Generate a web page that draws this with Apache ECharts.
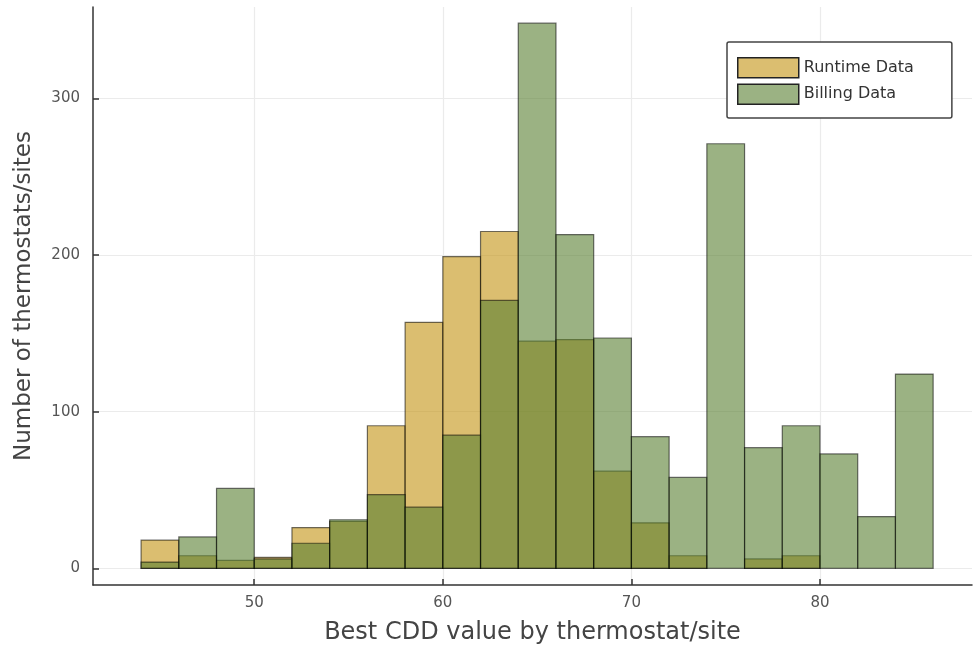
<!DOCTYPE html>
<html>
<head>
<meta charset="utf-8">
<script src="https://cdn.jsdelivr.net/npm/echarts@6/dist/echarts.min.js"></script>
<style>
html,body{margin:0;padding:0;background:#fff;}
#chart{width:973px;height:652px;}
</style>
</head>
<body>
<div id="chart"></div>
<script>
// Histogram bin edges (width 2, from 44 to 86)
const binStarts = [44,46,48,50,52,54,56,58,60,62,64,66,68,70,72,74,76,78,80,82,84];
const binWidth = 2;
const runtimeCounts = [18,8,5,7,26,30,91,157,199,215,145,146,62,29,8,0,6,8,0,0,0];
const billingCounts = [4,20,51,6,16,31,47,39,85,171,348,213,147,84,58,271,77,91,73,33,124];
const xTicks = [50,60,70,80];
const yTicks = [0,100,200,300];
const seriesNames = ['Runtime Data','Billing Data'];

const FONT = 'DejaVu Sans, Liberation Sans, Arial, sans-serif';
const fills = ['rgba(195,147,17,0.6)','rgba(88,127,48,0.6)'];
const edge = 'rgba(0,0,0,0.55)';

function toData(counts){
  return binStarts.map((s,i)=>[s, s+binWidth, counts[i]]);
}

function makeSeries(name, counts, fill){
  return {
    type:'custom',
    name:name,
    data: toData(counts),
    encode:{x:[0,1], y:2},
    itemStyle:{color:fill, borderColor:edge, borderWidth:1.2},
    renderItem:function(params, api){
      const x0 = api.value(0), x1 = api.value(1), v = api.value(2);
      if (v <= 0) return null;
      const p0 = api.coord([x0, v]);
      const p1 = api.coord([x1, 0]);
      return {
        type:'rect',
        shape:{x:p0[0], y:p0[1], width:p1[0]-p0[0], height:p1[1]-p0[1]},
        style:{fill:fill, stroke:edge, lineWidth:1.2}
      };
    }
  };
}

const chart = echarts.init(document.getElementById('chart'), null, {renderer:'canvas'});
chart.setOption({
  animation:false,
  backgroundColor:'#ffffff',
  grid:{left:93, top:7, right:1, bottom:67, containLabel:false, outerBoundsMode:'none'},
  legend:{
    data: seriesNames.map(n=>({name:n, icon:'rect'})),
    orient:'vertical',
    left:727, top:42,
    itemWidth:61, itemHeight:20, itemGap:5,
    padding:[15,38,13,10],
    borderColor:'#444', borderWidth:1.5, borderRadius:2,
    backgroundColor:'#fff',
    textStyle:{fontFamily:FONT, fontSize:16, color:'#333'},
    itemStyle:{borderColor:'#222', borderWidth:1.5}
  },
  xAxis:{
    type:'value', min:41.45, max:88.06,
    name:'Best CDD value by thermostat/site',
    nameLocation:'middle', nameGap:36,
    nameTextStyle:{fontFamily:FONT, fontSize:24, color:'#444'},
    axisLine:{show:true, onZero:false, lineStyle:{color:'#333', width:1.5}},
    axisTick:{show:true, inside:true, length:6, customValues:xTicks, lineStyle:{color:'#333', width:1.5}},
    axisLabel:{customValues:xTicks, fontFamily:FONT, fontSize:15, color:'#555', margin:11},
    splitLine:{show:true, lineStyle:{color:'#ebebeb', width:1.2}}
  },
  yAxis:{
    type:'value', min:-10.66, max:358.3,
    name:'Number of thermostats/sites',
    nameLocation:'middle', nameGap:57,
    nameTextStyle:{fontFamily:FONT, fontSize:23, color:'#444'},
    axisLine:{show:true, onZero:false, lineStyle:{color:'#333', width:1.5}},
    axisTick:{show:true, inside:true, length:6, customValues:yTicks, lineStyle:{color:'#333', width:1.5}},
    axisLabel:{customValues:yTicks, fontFamily:FONT, fontSize:15, color:'#555', margin:13},
    splitLine:{show:true, lineStyle:{color:'#ebebeb', width:1.2}}
  },
  series:[
    makeSeries(seriesNames[0], runtimeCounts, fills[0]),
    makeSeries(seriesNames[1], billingCounts, fills[1])
  ]
});
</script>
</body>
</html>
